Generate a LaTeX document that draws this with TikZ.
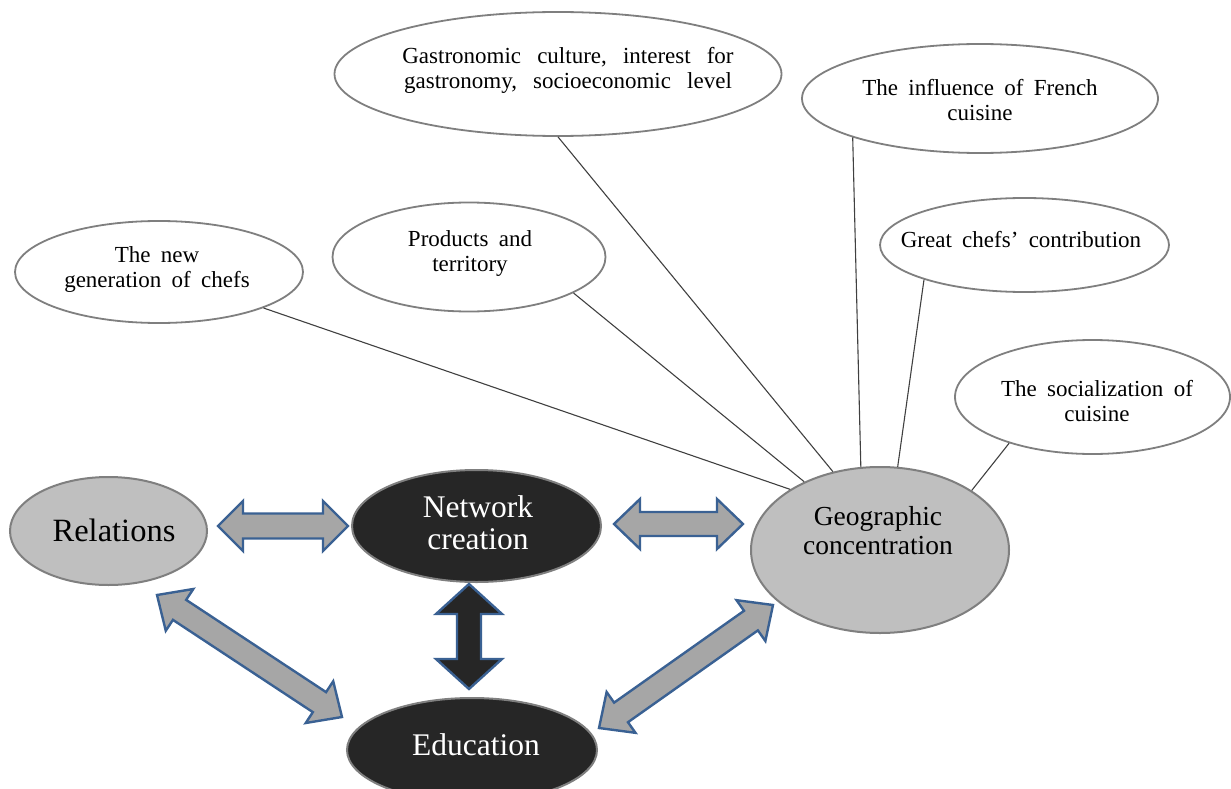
\documentclass[tikz,border=0pt]{standalone}
\usepackage{fontspec}
\setmainfont{Liberation Serif}
\usetikzlibrary{shapes.geometric,calc}
\definecolor{lgray}{HTML}{BFBFBF}
\definecolor{dgray}{HTML}{262626}
\definecolor{bgray}{HTML}{7F7F7F}
\definecolor{agray}{HTML}{A6A6A6}
\definecolor{ablue}{HTML}{3A6193}
\definecolor{lgr}{HTML}{404040}
\newcommand\dblarr[6]{%
  \coordinate (dA) at ($(#1)!#3!(#2)$);
  \coordinate (dB) at ($(#2)!#3!(#1)$);
  \draw[#6] (#1) -- ($(dA)!#4!90:(#2)$) -- ($(dA)!#5!90:(#2)$) -- ($(dB)!#5!-90:(#1)$) -- ($(dB)!#4!-90:(#1)$) -- (#2) -- ($(dB)!#4!90:(#1)$) -- ($(dB)!#5!90:(#1)$) -- ($(dA)!#5!-90:(#2)$) -- ($(dA)!#4!-90:(#2)$) -- cycle;}
\newcommand\widesp{\spaceskip=.45em\relax}
\newcommand\widersp{\spaceskip=.7em\relax}
\tikzset{
  bigE/.style={ellipse, draw=bgray, line width=2pt, inner sep=0pt},
  lightE/.style={bigE, fill=lgray},
  darkE/.style={bigE, fill=dgray},
  topE/.style={ellipse, draw=bgray, line width=1.8pt, fill=white, inner sep=0pt},
  lbl/.style={align=center, font=\fontsize{23}{25}\selectfont, execute at begin node=\widesp, inner sep=0pt},
  bigT/.style={align=center, font=\fontsize{31.5}{32}\selectfont, inner sep=0pt},
  geoT/.style={align=center, font=\fontsize{27.5}{29}\selectfont, inner sep=0pt},
  conn/.style={draw=lgr, line width=1.1pt},
  blk/.style={draw=ablue, line width=2.4pt, fill=agray, line join=miter},
  blkd/.style={blk, fill=dgray},
}
\begin{document}
\begin{tikzpicture}[x=1pt,y=-1pt]
\useasboundingbox (0,0) rectangle (1231,789);
\clip (0,0) rectangle (1231,789);
% top ellipses
\node[topE, minimum width=288pt, minimum height=102pt] (gen) at (159,272) {};
\node[lbl] (genT) at (157,270) {The new\\generation of chefs};
\node[topE, minimum width=273pt, minimum height=109pt] (prod) at (469,257) {};
\node[lbl] (prodT) at (470,253.5) {Products and\\territory};
\node[topE, minimum width=447pt, minimum height=124pt] (gast) at (558,74) {};
\node[lbl, execute at begin node=\widersp] (gastT) at (568,70.5) {Gastronomic culture, interest for\\gastronomy, socioeconomic level};
\node[topE, minimum width=356pt, minimum height=109pt] (fren) at (980,98.5) {};
\node[lbl] (frenT) at (980,100) {The influence of French\\cuisine};
\node[topE, minimum width=289pt, minimum height=94pt] (great) at (1024.5,245) {};
\node[lbl] (greatT) at (1021,240) {Great chefs' contribution};
\node[topE, minimum width=275pt, minimum height=114pt] (soc) at (1092.5,397) {};
\node[lbl] (socT) at (1097,401) {The socialization of\\cuisine};
% main ellipses
\node[lightE, minimum width=197pt, minimum height=108pt] (rel) at (108.5,531) {};
\node[bigT, font=\fontsize{32.5}{33}\selectfont] (relT) at (114,530) {Relations};
\node[darkE, minimum width=249pt, minimum height=112pt] (net) at (476.5,526) {};
\node[bigT, text=white] (netT) at (478,523) {Network\\creation};
\node[lightE, minimum width=258pt, minimum height=166pt] (geo) at (880,550) {};
\node[geoT] (geoT) at (878,531) {Geographic\\concentration};
\node[darkE, minimum width=250pt, minimum height=104pt] (edu) at (472,750) {};
\node[bigT, text=white] (eduT) at (476,745) {Education};
% connectors
\draw[conn] (gen.-19.3) -- (geo.146.3);
\draw[conn] (prod.-19.8) -- (geo.138.8);
\draw[conn] (gast.-90) -- (geo.121);
\draw[conn] (fren.-163.5) -- (geo.103.5);
\draw[conn] (great.-161) -- (geo.78);
\draw[conn] (soc.-151.4) -- (geo.33);
% block arrows
\coordinate (a1) at (218,526); \coordinate (b1) at (348,526);
\coordinate (a2) at (614,524); \coordinate (b2) at (743,524);
\coordinate (a3) at (157,595); \coordinate (b3) at (342,717);
\coordinate (a4) at (773,605); \coordinate (b4) at (599,728);
\coordinate (a5) at (469,584); \coordinate (b5) at (469,689);
\dblarr{a1}{b1}{25pt}{25pt}{12.5pt}{blk}
\dblarr{a2}{b2}{26pt}{25pt}{12pt}{blk}
\dblarr{a3}{b3}{27pt}{25pt}{12pt}{blk}
\dblarr{a4}{b4}{27pt}{25pt}{12pt}{blk}
\dblarr{a5}{b5}{30pt}{33pt}{12pt}{blkd}
\end{tikzpicture}
\end{document}
